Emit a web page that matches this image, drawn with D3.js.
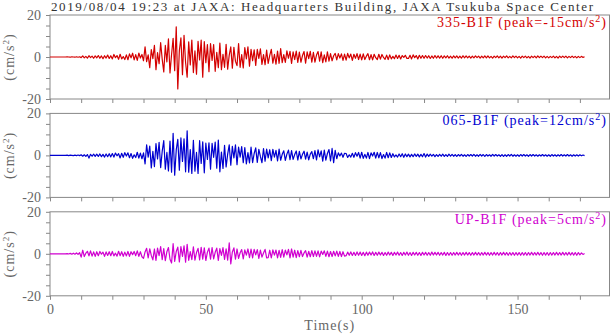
<!DOCTYPE html>
<head>
    <meta charset="utf-8"/>
    <script src="https://d3js.org/d3.v7.min.js"></script>
    <style>
        body { margin: 0; background: #fff; }
        text { font-family: "Liberation Serif", "DejaVu Serif", serif; }
    </style>
</head>
<body>
<svg id="chart" width="613" height="334"></svg>
<script>
    // title and station info
    const title = "2019/08/04 19:23 at JAXA: Headquarters Building, JAXA Tsukuba Space Center";
    const stations = ["335-B1F", "065-B1F", "UP-B1F"];
    const peaks = [-15, 12, 5];
    const colors = ["#d40000", "#0000d0", "#d000d0"];
    const xTicks = [0, 50, 100, 150];
    const yTicks = [-20, 0, 20];
    const dt = 0.5; // seconds between samples

    // acceleration samples (cm/s^2), one row = 5 s
    const acc335 = [
        0,0,0,0,0,0,0,0,0,0,
        0,0.1,0,-0.1,0.1,0,-0.1,0.1,-0.1,0.1,
        -0.3,0.5,-0.4,0.3,-0.5,0.6,-0.3,0.4,-0.6,0.5,
        -0.4,0.7,-0.6,0.5,-0.8,0.6,-0.5,0.9,-0.7,0.6,
        -0.9,1.2,-0.3,0.7,-1.1,1.3,-0.9,0.2,-1.2,1.0,
        -1.3,1.5,-0.4,1.8,-1.4,1.1,-1.6,1.9,-0.5,1.2,
        -1.8,4.8,-2.2,1.0,-5.1,3.5,-0.8,5.6,-6.0,2.1,
        -3.2,6.8,-1.1,-7.1,5.5,-2.3,8.6,-7.6,1.2,8.9,
        -6.5,14.4,-15.2,3.1,9.1,-8.4,10.3,-2.6,-9.6,7.2,
        -3.8,8.1,-7.4,2.9,-8.2,7.5,-1.4,8.0,-9.6,7.3,
        -2.7,5.9,-7.0,6.4,-1.6,5.9,-6.8,2.2,-5.1,6.6,
        -6.0,1.3,-4.9,6.0,-5.8,0.9,4.8,-5.3,4.6,-2.1,
        -4.1,6.4,-4.9,1.2,-5.2,4.5,-0.9,4.8,-4.4,3.7,
        -1.8,3.4,-4.0,3.6,-0.7,3.9,-3.5,1.1,-3.7,3.3,
        -3.1,0.8,3.6,-2.9,1.3,-3.4,2.8,-3.0,4.0,-2.7,
        1.1,-2.6,2.9,-0.6,2.7,-3.0,2.5,-1.2,2.8,-2.6,
        2.3,-2.5,0.7,2.6,-2.9,2.4,-0.8,2.7,-2.5,2.2,
        -2.4,0.9,2.6,-2.0,2.5,-2.7,1.0,-2.3,2.5,-2.0,
        1.6,-1.8,0.6,1.7,-1.4,1.6,-0.5,1.5,-1.6,1.4,
        -1.5,1.7,-0.4,1.4,-1.6,1.3,-0.6,1.6,-1.2,1.4,
        -1.4,1.5,-1.2,0.4,1.6,-1.3,1.1,-1.4,1.3,-0.3,
        -1.2,1.3,-1.0,1.2,-0.2,-1.1,0.9,-1.2,1.0,-0.9,
        0.3,-0.8,0.9,-0.7,0.8,-0.9,0.7,-0.2,0.8,-0.7,
        -0.7,0.8,-0.9,1.0,-0.3,0.7,-0.9,0.8,-0.6,0.7,
        -0.6,0.7,-0.5,0.6,-0.7,0.5,-0.6,0.7,-0.5,0.6,
        -0.5,0.6,-0.6,0.5,-0.4,0.6,-0.5,0.4,-0.6,0.5,
        -0.4,0.5,-0.5,0.4,-0.5,0.6,-0.4,0.5,-0.4,0.4,
        -0.5,0.4,-0.4,0.5,-0.3,0.4,-0.5,0.4,-0.4,0.5,
        -0.4,0.5,-0.4,0.3,-0.5,0.4,-0.3,0.5,-0.4,0.4,
        -0.5,0.4,-0.3,0.5,-0.4,0.3,-0.4,0.5,-0.3,0.4,
        -0.4,0.3,-0.5,0.4,-0.3,0.4,-0.4,0.3,-0.5,0.4,
        -0.3,0.4,-0.4,0.5,-0.3,0.4,-0.3,0.4,-0.4,0.3,
        -0.4,0.3,-0.3,0.4,-0.4,0.3,-0.5,0.4,-0.3,0.4,
        -0.3,0.4,-0.4,0.3,-0.3,0.4,-0.3,0.3,-0.4,0.3,
        -0.3,0.3,-0.2,0.1
    ];
    const acc065 = [
        0,0,0,0,0,0,0,0,0,0,
        0,0.1,-0.1,0.1,0,-0.1,0.1,-0.1,0.2,-0.1,
        0.3,-0.4,0.3,-0.5,0.4,-1.3,0.5,-0.4,0.6,-0.5,
        0.6,-0.5,0.7,-0.6,0.5,-0.8,0.7,-0.6,0.8,-0.7,
        0.9,-0.8,1.1,-0.2,0.8,-1.2,1.0,-0.9,1.3,-0.3,
        1.2,-1.1,0.9,-1.4,0.3,-1.0,1.5,-1.3,1.1,-1.6,
        1.2,-4.1,5.0,-0.8,4.4,-6.0,1.9,-5.3,5.6,-1.7,
        6.2,-5.8,2.0,7.0,-6.6,1.4,-7.4,6.8,-8.0,10.5,
        -9.4,2.6,7.6,-7.0,8.3,-2.9,7.9,-7.8,11.7,-8.0,
        2.8,-8.6,7.2,-7.5,1.4,-8.6,7.0,-3.8,6.5,-8.3,
        5.8,-1.9,6.0,-6.6,5.7,-0.9,6.3,-6.1,7.3,-7.8,
        1.6,-6.2,4.8,-5.5,0.6,5.0,-4.7,4.3,-1.2,5.0,
        -4.4,4.0,-0.8,4.2,-3.5,3.7,-4.1,1.3,-3.6,3.9,
        -3.4,0.9,3.6,-3.3,2.9,-0.5,-3.5,3.2,-2.8,3.0,
        -1.2,2.7,-2.5,2.9,-0.8,2.4,-2.6,3.0,-2.3,0.5,
        2.2,-2.4,0.6,2.5,-2.0,2.3,-1.9,0.4,2.1,-2.2,
        1.9,-1.7,0.5,2.0,-1.8,1.6,-2.1,0.6,1.8,-1.6,
        2.3,-2.1,2.6,-0.7,2.2,-2.7,2.5,-2.3,0.9,2.8,
        -2.6,3.3,-3.5,2.4,-1.6,1.2,-0.3,1.1,-0.9,1.0,
        0.9,-1.0,0.3,-0.8,1.0,-0.9,1.3,-0.4,1.4,-1.3,
        1.5,-1.4,0.5,-1.3,1.4,-1.5,1.2,-0.3,1.5,-1.3,
        1.4,-1.2,1.3,-1.5,0.4,-1.3,1.4,-1.1,1.2,-1.0,
        0.8,-0.7,0.2,-0.8,0.7,-0.6,0.8,-0.9,0.7,-0.6,
        0.6,-0.7,0.5,-0.6,0.7,-0.5,0.6,-0.7,0.5,-0.6,
        0.9,-0.8,0.6,-0.5,0.6,-0.4,0.5,-0.6,0.4,-0.5,
        0.5,-0.4,0.6,-0.5,0.4,-0.5,0.6,-0.4,0.5,-0.4,
        0.4,-0.5,0.4,-0.3,0.5,-0.4,0.3,-0.5,0.4,-0.3,
        0.4,-0.3,0.5,-0.4,0.3,-0.4,0.5,-0.3,0.4,-0.5,
        0.4,-0.3,0.3,-0.4,0.5,-0.3,0.4,-0.3,0.3,-0.4,
        0.4,-0.5,0.3,-0.4,0.4,-0.3,0.5,-0.4,0.3,-0.4,
        0.3,-0.4,0.4,-0.3,0.4,-0.3,0.3,-0.4,0.4,-0.3,
        0.4,-0.3,0.3,-0.4,0.3,-0.3,0.4,-0.3,0.3,-0.4,
        0.3,-0.4,0.4,-0.3,0.3,-0.4,0.3,-0.3,0.4,-0.3,
        0.3,-0.3,0.4,-0.3,0.3,-0.4,0.3,-0.3,0.3,-0.3,
        0.3,-0.2,0.2,-0.1
    ];
    const accUP = [
        0,0,0,0,0,0,0,0,0,0,
        0,0.1,-0.1,0.2,-0.2,0.3,-0.2,0.4,-0.3,0.5,
        -1.6,1.7,-1.3,0.3,1.2,-1.0,1.4,-1.1,0.9,-1.2,
        1.0,-0.9,1.1,-0.2,0.8,-1.2,0.9,-0.8,1.0,-0.9,
        1.1,-1.0,0.3,-1.1,1.2,-0.9,1.0,-1.2,0.8,-1.0,
        1.1,-1.2,1.0,-0.4,1.1,-0.9,1.4,-1.2,1.0,-1.4,
        -2.2,0.9,2.6,-2.0,2.4,-0.8,-2.9,2.3,-3.1,2.7,
        -0.9,3.4,-2.8,2.5,-3.3,1.0,3.0,-2.6,-4.4,4.8,
        -3.6,1.1,3.2,-3.9,3.4,-1.2,3.8,-4.0,4.5,-3.1,
        1.0,-2.8,3.3,-3.0,0.6,2.6,-2.9,3.1,-2.5,2.8,
        -3.2,0.8,2.7,-2.6,3.0,-2.4,0.7,2.7,-3.1,2.5,
        -0.8,2.9,-2.7,2.4,-3.0,5.2,-4.8,0.9,2.8,-2.6,
        2.3,-2.2,0.5,2.0,-2.4,1.9,-0.6,2.3,-1.8,2.2,
        -1.9,2.1,-0.5,2.0,-2.2,1.8,-1.6,0.4,2.1,-1.9,
        -1.8,1.7,-2.0,1.9,-0.6,1.8,-1.9,1.6,-1.7,2.0,
        -1.6,1.8,-0.5,2.1,-1.9,2.3,-1.6,1.7,-1.8,1.5,
        -1.4,1.6,-1.3,0.4,1.5,-1.6,1.2,-1.4,1.5,-1.3,
        1.4,-1.2,1.4,-1.5,1.3,-0.3,1.4,-1.2,1.3,-1.4,
        1.1,-1.3,1.2,-1.0,1.3,-1.2,1.1,-1.3,1.0,-1.1,
        -0.9,0.8,-0.7,0.9,-0.8,0.7,-0.8,0.9,-0.7,0.8,
        -0.8,0.7,-0.9,0.8,-0.7,0.8,-0.6,0.9,-0.8,0.7,
        -0.7,0.8,-0.6,0.7,-0.8,0.6,-0.7,0.8,-0.6,0.7,
        -0.8,0.7,-0.6,0.8,-0.7,0.6,-0.8,0.7,-0.6,0.8,
        -0.7,0.6,-0.8,0.7,-0.6,0.7,-0.7,0.6,-0.8,0.7,
        -0.6,0.7,-0.7,0.6,-0.7,0.8,-0.6,0.7,-0.6,0.7,
        -0.7,0.6,-0.6,0.7,-0.8,0.6,-0.7,0.6,-0.7,0.6,
        -0.6,0.7,-0.6,0.6,-0.7,0.6,-0.6,0.7,-0.6,0.6,
        -0.7,0.6,-0.6,0.7,-0.6,0.6,-0.7,0.6,-0.6,0.7,
        -0.6,0.6,-0.7,0.6,-0.6,0.7,-0.6,0.6,-0.7,0.6,
        -0.6,0.7,-0.6,0.6,-0.7,0.6,-0.6,0.6,-0.7,0.6,
        -0.6,0.6,-0.7,0.6,-0.6,0.6,-0.7,0.6,-0.6,0.7,
        -0.6,0.6,-0.6,0.7,-0.6,0.6,-0.7,0.6,-0.6,0.6,
        -0.7,0.6,-0.6,0.6,-0.6,0.7,-0.6,0.6,-0.6,0.7,
        -0.6,0.6,-0.6,0.7,-0.6,0.6,-0.6,0.6,-0.7,0.6,
        -0.5,0.4,-0.3,0.1
    ];
    const traces = [acc335, acc065, accUP];

    let svg = d3.select("svg#chart");
    const left = 50, right = 609.5;
    const panelTop = 15, panelH = 84, panelStep = 98.4;
    const axisGrey = "#888";

    let xScale = d3.scaleLinear().domain([0, 179.5]).range([left, right]);

    svg.append("text")
        .text(title)
        .attr("x", 51)
        .attr("y", 11)
        .attr("textLength", 542)
        .attr("lengthAdjust", "spacing")
        .style("font-size", "13px")
        .style("fill", "#333");

    traces.forEach(function(data, p) {
        let top = panelTop + p * panelStep;
        let yScale = d3.scaleLinear().domain([-20, 20]).range([top + panelH, top]);
        let g = svg.append("g");

        // frame
        g.append("rect")
            .attr("x", left)
            .attr("y", top)
            .attr("width", right - left)
            .attr("height", panelH)
            .style("fill", "none")
            .style("stroke", axisGrey)
            .style("stroke-width", 1);

        // y ticks every 5, labels at -20, 0, 20
        let yAxis = d3.axisLeft(yScale)
            .tickValues(d3.range(-20, 21, 5))
            .tickSize(4)
            .tickPadding(5)
            .tickFormat(d => yTicks.includes(d) ? d : "");
        let ya = g.append("g").attr("transform", "translate(" + left + ",0)").call(yAxis);
        ya.select(".domain").remove();
        ya.selectAll("line").style("stroke", axisGrey);
        ya.selectAll("text")
            .style("font-size", "14px")
            .style("font-family", "'Liberation Serif', serif")
            .style("fill", "#666");

        // x ticks every 10 s
        let xAxis = d3.axisBottom(xScale)
            .tickValues(d3.range(0, 171, 10))
            .tickSize(4)
            .tickPadding(4)
            .tickFormat(d => (p == 2 && xTicks.includes(d)) ? d : "");
        let xa = g.append("g").attr("transform", "translate(0," + (top + panelH) + ")").call(xAxis);
        xa.select(".domain").remove();
        xa.selectAll("line").style("stroke", axisGrey);
        xa.selectAll("text")
            .style("font-size", "14px")
            .style("font-family", "'Liberation Serif', serif")
            .style("fill", "#666");

        // y label
        let yl = g.append("text")
            .attr("transform", "translate(14," + (top + panelH / 2) + ") rotate(-90)")
            .attr("text-anchor", "middle")
            .style("font-size", "14px")
            .style("letter-spacing", "1px")
            .style("fill", "#666");
        yl.append("tspan").text("(cm/s");
        yl.append("tspan").text("2").attr("dy", -5).style("font-size", "9px");
        yl.append("tspan").text(")").attr("dy", 5);

        // the record
        let line = d3.line()
            .x((d, i) => xScale(i * dt))
            .y(d => yScale(d));
        g.append("path")
            .datum(data)
            .attr("d", line)
            .style("fill", "none")
            .style("stroke", colors[p])
            .style("stroke-width", 1.2)
            .style("stroke-linejoin", "round");

        // station label
        let lab = g.append("text")
            .attr("x", 607)
            .attr("y", top + 12)
            .attr("text-anchor", "end")
            .style("font-size", "14px")
            .style("letter-spacing", "1px")
            .style("fill", colors[p]);
        lab.append("tspan").text(stations[p] + " (peak=" + peaks[p] + "cm/s");
        lab.append("tspan").text("2").attr("dy", -5).style("font-size", "10px");
        lab.append("tspan").text(")").attr("dy", 5);
    });

    svg.append("text")
        .text("Time(s)")
        .attr("x", (left + right) / 2)
        .attr("y", 330)
        .attr("text-anchor", "middle")
        .style("font-size", "14px")
        .style("letter-spacing", "1px")
        .style("fill", "#666");
</script>
</body>
